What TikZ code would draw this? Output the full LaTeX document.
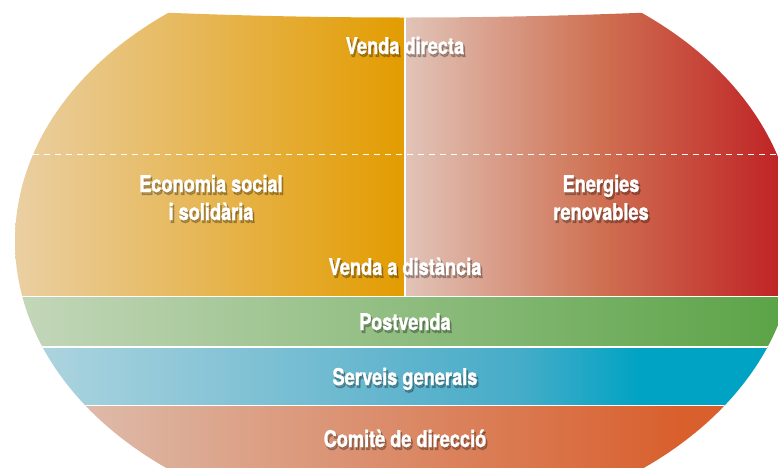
\documentclass[tikz,border=0pt]{standalone}
\usepackage{fontspec}
\newfontfamily\lblfont{TeX Gyre Heros}[FakeStretch=0.79, FakeBold=1.2]
\newfontfamily\shdfont{TeX Gyre Heros}[FakeStretch=0.79, FakeBold=5]
\definecolor{orL}{RGB}{234,208,165}
\definecolor{orR}{RGB}{227,156,0}
\definecolor{pkL}{RGB}{225,196,184}
\definecolor{pkM}{RGB}{207,112,82}
\definecolor{pkR}{RGB}{190,27,32}
\definecolor{gnL}{RGB}{196,215,186}
\definecolor{gnR}{RGB}{89,162,68}
\definecolor{blA}{RGB}{178,214,224}
\definecolor{blB}{RGB}{95,180,205}
\definecolor{blC}{RGB}{70,172,200}
\definecolor{blD}{RGB}{0,163,196}
\definecolor{cmL}{RGB}{221,187,170}
\definecolor{cmR}{RGB}{217,95,45}
\tikzset{
  lbl/.style={anchor=base, text=white, inner sep=0pt,
    font=\lblfont\bfseries\fontsize{23}{28}\selectfont},
  shd/.style={anchor=base, text=black, inner sep=0pt, opacity=0.22,
    font=\shdfont\bfseries\fontsize{23}{28}\selectfont},
  sep/.style={white, line width=1.4pt},
  dashsep/.style={white, line width=1pt, dash pattern=on 6pt off 5pt}
}
\newcommand\blab[4]{%
  \node[shd] (#1s) at (#2+1.5,#3+2.5) {#4};
  \node[lbl] (#1) at (#2,#3) {#4};
}
\begin{document}
\begin{tikzpicture}[x=1pt,y=-1pt]
\useasboundingbox (0,0) rectangle (778,467);
\begin{scope}
  \clip (405,241) ellipse [x radius=390pt, y radius=287pt];
  \clip (-20,3.6) -- (0,3.6) .. controls (270,22.13) and (540,22.13) .. (810,3.6)
        -- (830,3.6) -- (830,500) -- (-20,500) -- cycle;
  % top halves
  \shade[left color=orL, right color=orR] (10,0) rectangle (405.5,296);
  \shade[left color=pkL, right color=pkM] (405,0) rectangle (600.5,296);
  \shade[left color=pkM, right color=pkR] (600,0) rectangle (800,296);
  % Postvenda
  \shade[left color=gnL, right color=gnR] (15,296) rectangle (800,347);
  % Serveis generals
  \shade[left color=blA, right color=blB] (15,347) rectangle (405.5,406);
  \shade[left color=blB, right color=blC] (405,347) rectangle (520.5,406);
  \shade[left color=blC, right color=blD] (520,347) rectangle (640.5,406);
  \fill[blD] (640,347) rectangle (800,406);
  % Comite
  \fill[cmL] (15,405) rectangle (80.5,480);
  \shade[left color=cmL, right color=cmR] (80,405) rectangle (680.5,480);
  \fill[cmR] (680,405) rectangle (800,480);
  % separators
  \draw[sep] (0,296.5) -- (800,296.5);
  \draw[sep] (0,347) -- (800,347);
  \draw[sep] (0,405.7) -- (800,405.7);
  \draw[sep] (405,0) -- (405,296);
  \draw[dashsep] (0,154.5) -- (800,154.5);
\end{scope}
\blab{vd}{405}{54}{Venda directa}
\blab{ec}{211}{192}{Economia social}
\blab{es}{211}{220}{i solidària}
\blab{en}{601}{192}{Energies}
\blab{er}{601}{220}{renovables}
\blab{va}{405}{275}{Venda a distància}
\blab{pv}{405}{330}{Postvenda}
\blab{sg}{405}{385}{Serveis generals}
\blab{cd}{405}{447}{Comitè de direcció}
\end{tikzpicture}
\end{document}
